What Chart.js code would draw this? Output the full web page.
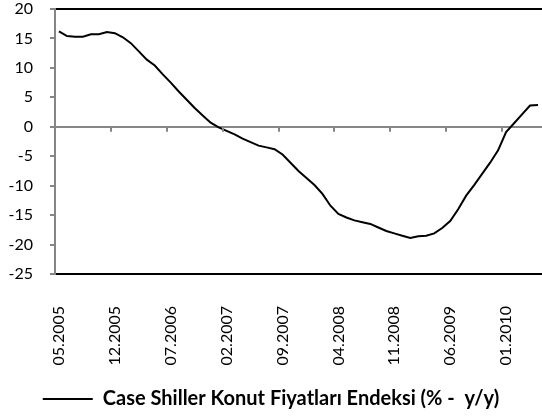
<!DOCTYPE html>
<html>
<head>
<meta charset="utf-8">
<script src="https://cdn.jsdelivr.net/npm/chart.js@4/dist/chart.umd.min.js"></script>
<style>
  html, body { margin: 0; padding: 0; background: #fff; overflow: hidden; }
  #wrap { width: 542px; height: 419px; position: relative; }
</style>
</head>
<body>
<div id="wrap"><canvas id="c" width="542" height="419"></canvas></div>
<script>
const months = [
  "05.2005","06.2005","07.2005","08.2005","09.2005","10.2005","11.2005","12.2005",
  "01.2006","02.2006","03.2006","04.2006","05.2006","06.2006","07.2006","08.2006","09.2006","10.2006","11.2006","12.2006",
  "01.2007","02.2007","03.2007","04.2007","05.2007","06.2007","07.2007","08.2007","09.2007","10.2007","11.2007","12.2007",
  "01.2008","02.2008","03.2008","04.2008","05.2008","06.2008","07.2008","08.2008","09.2008","10.2008","11.2008","12.2008",
  "01.2009","02.2009","03.2009","04.2009","05.2009","06.2009","07.2009","08.2009","09.2009","10.2009","11.2009","12.2009",
  "01.2010","02.2010","03.2010","04.2010","05.2010"
];
const caseShiller = [
  16.2, 15.4, 15.3, 15.3, 15.7, 15.7, 16.1, 15.9, 15.2, 14.2,
  12.8, 11.4, 10.4, 8.9, 7.5, 6.0, 4.6, 3.2, 1.9, 0.7,
  -0.1, -0.7, -1.3, -2.0, -2.6, -3.2, -3.5, -3.8, -4.7, -6.1,
  -7.5, -8.7, -9.9, -11.4, -13.4, -14.8, -15.4, -15.9, -16.2, -16.5,
  -17.1, -17.7, -18.1, -18.5, -18.9, -18.6, -18.5, -18.1, -17.2, -16.0,
  -14.0, -11.7, -9.9, -8.0, -6.1, -4.0, -0.9, 0.6, 2.1, 3.6,
  3.7
];
const seriesName = "Case Shiller Konut Fiyatları Endeksi (% -  y/y)";
const labelEvery = 7;
const yMin = -25, yMax = 20, yStep = 5;

const GRAY = '#868686';
const FONT = 'Lato, "Liberation Sans", sans-serif';

// tick marks on the zero (category) axis line, placed through the chart's own scales
const zeroAxisTicks = {
  id: 'zeroAxisTicks',
  afterDraw(chart) {
    const xs = chart.scales.x, ys = chart.scales.y, ctx = chart.ctx;
    const y0 = ys.getPixelForValue(0);
    const half = (xs.getPixelForValue(1) - xs.getPixelForValue(0)) / 2;
    ctx.save();
    ctx.strokeStyle = GRAY;
    ctx.lineWidth = 2;
    for (let i = labelEvery; i < months.length; i += labelEvery) {
      const x = Math.round(xs.getPixelForValue(i) - half);
      ctx.beginPath();
      ctx.moveTo(x, y0);
      ctx.lineTo(x, y0 + 5);
      ctx.stroke();
    }
    ctx.restore();
  }
};

new Chart(document.getElementById('c'), {
  type: 'line',
  data: {
    labels: months,
    datasets: [{
      label: seriesName,
      data: caseShiller,
      borderColor: '#000',
      backgroundColor: '#000',
      borderWidth: 2,
      pointRadius: 0,
      tension: 0,
      fill: false,
      pointStyle: 'line'
    }]
  },
  options: {
    responsive: false,
    animation: false,
    layout: { padding: { top: 9, left: 0, right: 0, bottom: 0 } },
    plugins: {
      tooltip: { enabled: false },
      legend: {
        position: 'bottom',
        labels: {
          usePointStyle: true,
          pointStyle: 'line',
          pointStyleWidth: 50,
          color: '#000',
          padding: 8,
          font: { family: FONT, size: 20, weight: 'bold' }
        }
      }
    },
    scales: {
      x: {
        type: 'category',
        offset: true,
        grid: { display: false },
        border: { display: false },
        afterFit: (s) => { s.height = 107; s.paddingLeft = 0; s.paddingRight = 0; },
        ticks: {
          autoSkip: false,
          minRotation: 90,
          maxRotation: 90,
          padding: 24,
          color: '#000',
          font: { family: FONT, size: 16 },
          callback: function(v, i) { return i % labelEvery === 0 ? this.getLabelForValue(v) : ''; }
        }
      },
      y: {
        min: yMin,
        max: yMax,
        afterFit: (s) => { s.width = 55; s.paddingTop = 0; s.paddingBottom = 0; },
        grid: {
          drawTicks: true,
          tickLength: 5,
          lineWidth: 2,
          color: (ctx) => {
            const v = ctx.tick && ctx.tick.value;
            if (v === yMax || v === yMin) return '#000';
            if (v === 0) return GRAY;
            return 'rgba(0,0,0,0)';
          },
          tickColor: GRAY
        },
        border: { display: true, color: GRAY, width: 2 },
        ticks: {
          stepSize: yStep,
          padding: 17,
          color: '#000',
          font: { family: FONT, size: 16 }
        }
      }
    }
  },
  plugins: [zeroAxisTicks]
});
</script>
</body>
</html>
